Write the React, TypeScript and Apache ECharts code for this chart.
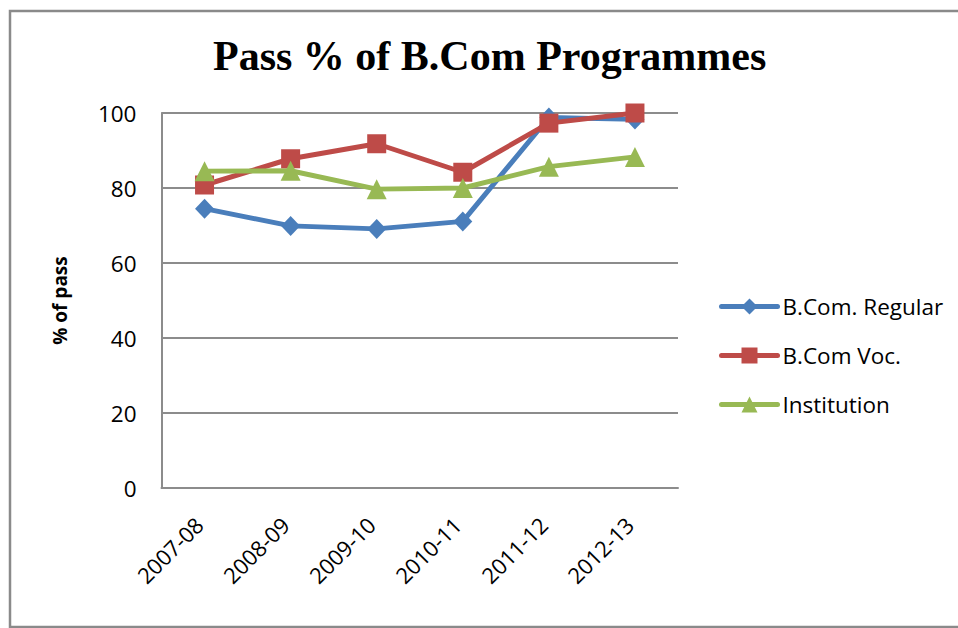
import React, { useEffect, useRef } from "react";
import * as echarts from "echarts";

const categories = ["2007-08", "2008-09", "2009-10", "2010-11", "2011-12", "2012-13"];
const regular = [74.5, 69.9, 69.1, 71.1, 98.8, 98.3];
const vocational = [80.8, 87.8, 91.8, 84.2, 97.3, 100];
const institution = [84.5, 84.6, 79.7, 80.0, 85.7, 88.3];
const seriesNames = ["B.Com. Regular", "B.Com Voc.", "Institution"];
const titleText = "Pass % of B.Com Programmes";
const yAxisName = "% of pass";

const FONT = "'Open Sans', sans-serif";

export default function App() {
  const ref = useRef<HTMLDivElement>(null);
  useEffect(() => {
    if (!ref.current) return;
    const chart = echarts.init(ref.current, null, { renderer: "svg" });
    chart.setOption({
      animation: false,
      backgroundColor: "#ffffff",
      title: {
        text: titleText,
        left: 208,
        top: 30,
        textStyle: {
          fontFamily: "'Liberation Serif', 'Times New Roman', serif",
          fontWeight: "bold",
          fontSize: 42,
          color: "#000",
        },
      },
      graphic: [
        {
          type: "rect",
          shape: { x: 10, y: 11, width: 960, height: 616 },
          style: { fill: "none", stroke: "#8a8a8a", lineWidth: 2.5 },
          silent: true,
        },
      ],
      legend: {
        orient: "vertical",
        left: 714,
        top: 290,
        itemWidth: 56,
        itemHeight: 20,
        itemGap: 26,
        lineStyle: { width: 5, cap: "round" },
        textStyle: { fontFamily: FONT, fontSize: 22.5, color: "#000" },
        data: seriesNames,
      },
      grid: { left: 161.5, right: 280, top: 113, bottom: 140, containLabel: false },
      xAxis: {
        type: "category",
        data: categories,
        boundaryGap: true,
        axisLine: { lineStyle: { color: "#8c8c8c", width: 2 } },
        axisTick: { show: false },
        axisLabel: {
          rotate: 45,
          margin: 27,
          padding: [0, 8, 0, 0],
          fontFamily: FONT,
          fontSize: 22,
          color: "#000",
          interval: 0,
        },
      },
      yAxis: {
        type: "value",
        min: 0,
        max: 100,
        interval: 20,
        name: yAxisName,
        nameLocation: "middle",
        nameGap: 92,
        nameTextStyle: { fontFamily: FONT, fontSize: 19, fontWeight: "bold", color: "#000" },
        axisLine: { show: true, lineStyle: { color: "#8c8c8c", width: 2 } },
        axisTick: { show: false },
        splitLine: { lineStyle: { color: "#8c8c8c", width: 2 } },
        axisLabel: { margin: 25, fontFamily: FONT, fontSize: 22.5, color: "#000" },
      },
      series: [
        {
          name: seriesNames[0],
          type: "line",
          data: regular,
          symbol: "diamond",
          symbolSize: [19, 20],
          lineStyle: { color: "#4a7ebb", width: 5 },
          itemStyle: { color: "#4a7ebb" },
        },
        {
          name: seriesNames[1],
          type: "line",
          data: vocational,
          symbol: "rect",
          symbolSize: 19,
          lineStyle: { color: "#be4b48", width: 5 },
          itemStyle: { color: "#be4b48" },
        },
        {
          name: seriesNames[2],
          type: "line",
          data: institution,
          symbol: "triangle",
          symbolSize: 20,
          lineStyle: { color: "#98b954", width: 5 },
          itemStyle: { color: "#98b954" },
        },
      ],
    });
    return () => chart.dispose();
  }, []);
  return (
    <div
      ref={ref}
      style={{ position: "fixed", left: 0, top: 0, width: 958, height: 628 }}
    />
  );
}
